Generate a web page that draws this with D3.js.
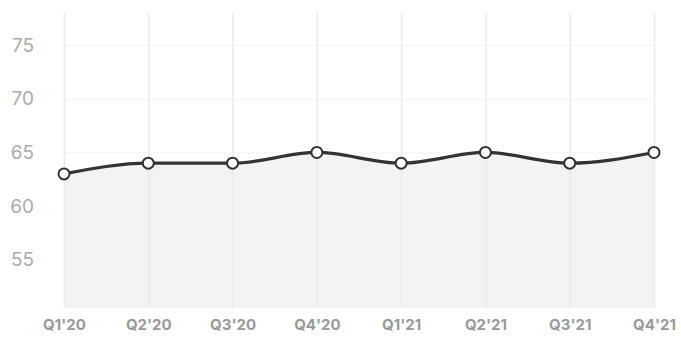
<!DOCTYPE html>
<html>
<head>
<meta charset="utf-8">
<script src="https://cdn.jsdelivr.net/npm/d3@7"></script>
<style>
  html, body { margin: 0; padding: 0; background: #fff; }
  svg { display: block; font-family: Inter, "Liberation Sans", Arial, sans-serif; }
</style>
</head>
<body>
<svg id="chart" width="681" height="338"></svg>
<script>
// Quarterly score series
const quarters = ["Q1'20", "Q2'20", "Q3'20", "Q4'20", "Q1'21", "Q2'21", "Q3'21", "Q4'21"];
const scores = [63, 64, 64, 65, 64, 65, 64, 65];
const yTicks = [55, 60, 65, 70, 75];
const yDomain = [50.5, 78];

const svg = d3.select("#chart");
const plot = { left: 64, right: 654, top: 13, bottom: 308 };

const x = d3.scalePoint().domain(quarters).range([plot.left, plot.right]);
const y = d3.scaleLinear().domain(yDomain).range([plot.bottom, plot.top]);

const data = quarters.map((q, i) => ({ q, v: scores[i] }));

// Light horizontal grid
svg.append("g")
  .attr("transform", `translate(${plot.left},0)`)
  .call(d3.axisLeft(y).tickValues(yTicks).tickSize(-(plot.right - plot.left)).tickFormat(""))
  .call(g => g.select(".domain").remove())
  .call(g => g.selectAll("line").attr("stroke", "#f3f3f3").attr("stroke-width", 1));

// Area under the line
const area = d3.area()
  .x(d => x(d.q))
  .y0(plot.bottom)
  .y1(d => y(d.v))
  .curve(d3.curveMonotoneX);
svg.append("path").datum(data).attr("d", area).attr("fill", "#f3f3f3");

// Vertical grid at each quarter
svg.append("g")
  .attr("transform", `translate(0,${plot.bottom})`)
  .call(d3.axisBottom(x).tickSize(-(plot.bottom - plot.top)).tickFormat(""))
  .call(g => g.select(".domain").remove())
  .call(g => g.selectAll("line").attr("stroke", "#ebebeb").attr("stroke-width", 1.5));

// Y tick labels
svg.append("g")
  .attr("transform", `translate(34,0)`)
  .call(d3.axisLeft(y).tickValues(yTicks).tickSize(0).tickPadding(0))
  .call(g => g.select(".domain").remove())
  .call(g => g.selectAll("text")
    .attr("fill", "#ababab")
    .attr("font-size", 19)
    .attr("font-family", "Inter, 'Liberation Sans', Arial, sans-serif"));

// X tick labels
svg.append("g")
  .attr("transform", `translate(0,${plot.bottom})`)
  .call(d3.axisBottom(x).tickSize(0).tickPadding(11))
  .call(g => g.select(".domain").remove())
  .call(g => g.selectAll("text")
    .attr("fill", "#999")
    .attr("font-size", 15)
    .attr("font-weight", "bold")
    .attr("font-family", "Inter, 'Liberation Sans', Arial, sans-serif"));

// Line
const line = d3.line()
  .x(d => x(d.q))
  .y(d => y(d.v))
  .curve(d3.curveMonotoneX);
svg.append("path").datum(data)
  .attr("d", line)
  .attr("fill", "none")
  .attr("stroke", "#333")
  .attr("stroke-width", 3.2);

// Point markers
svg.append("g").selectAll("circle").data(data).join("circle")
  .attr("cx", d => x(d.q))
  .attr("cy", d => y(d.v))
  .attr("r", 5.5)
  .attr("fill", "#fff")
  .attr("stroke", "#333")
  .attr("stroke-width", 2);
</script>
</body>
</html>
